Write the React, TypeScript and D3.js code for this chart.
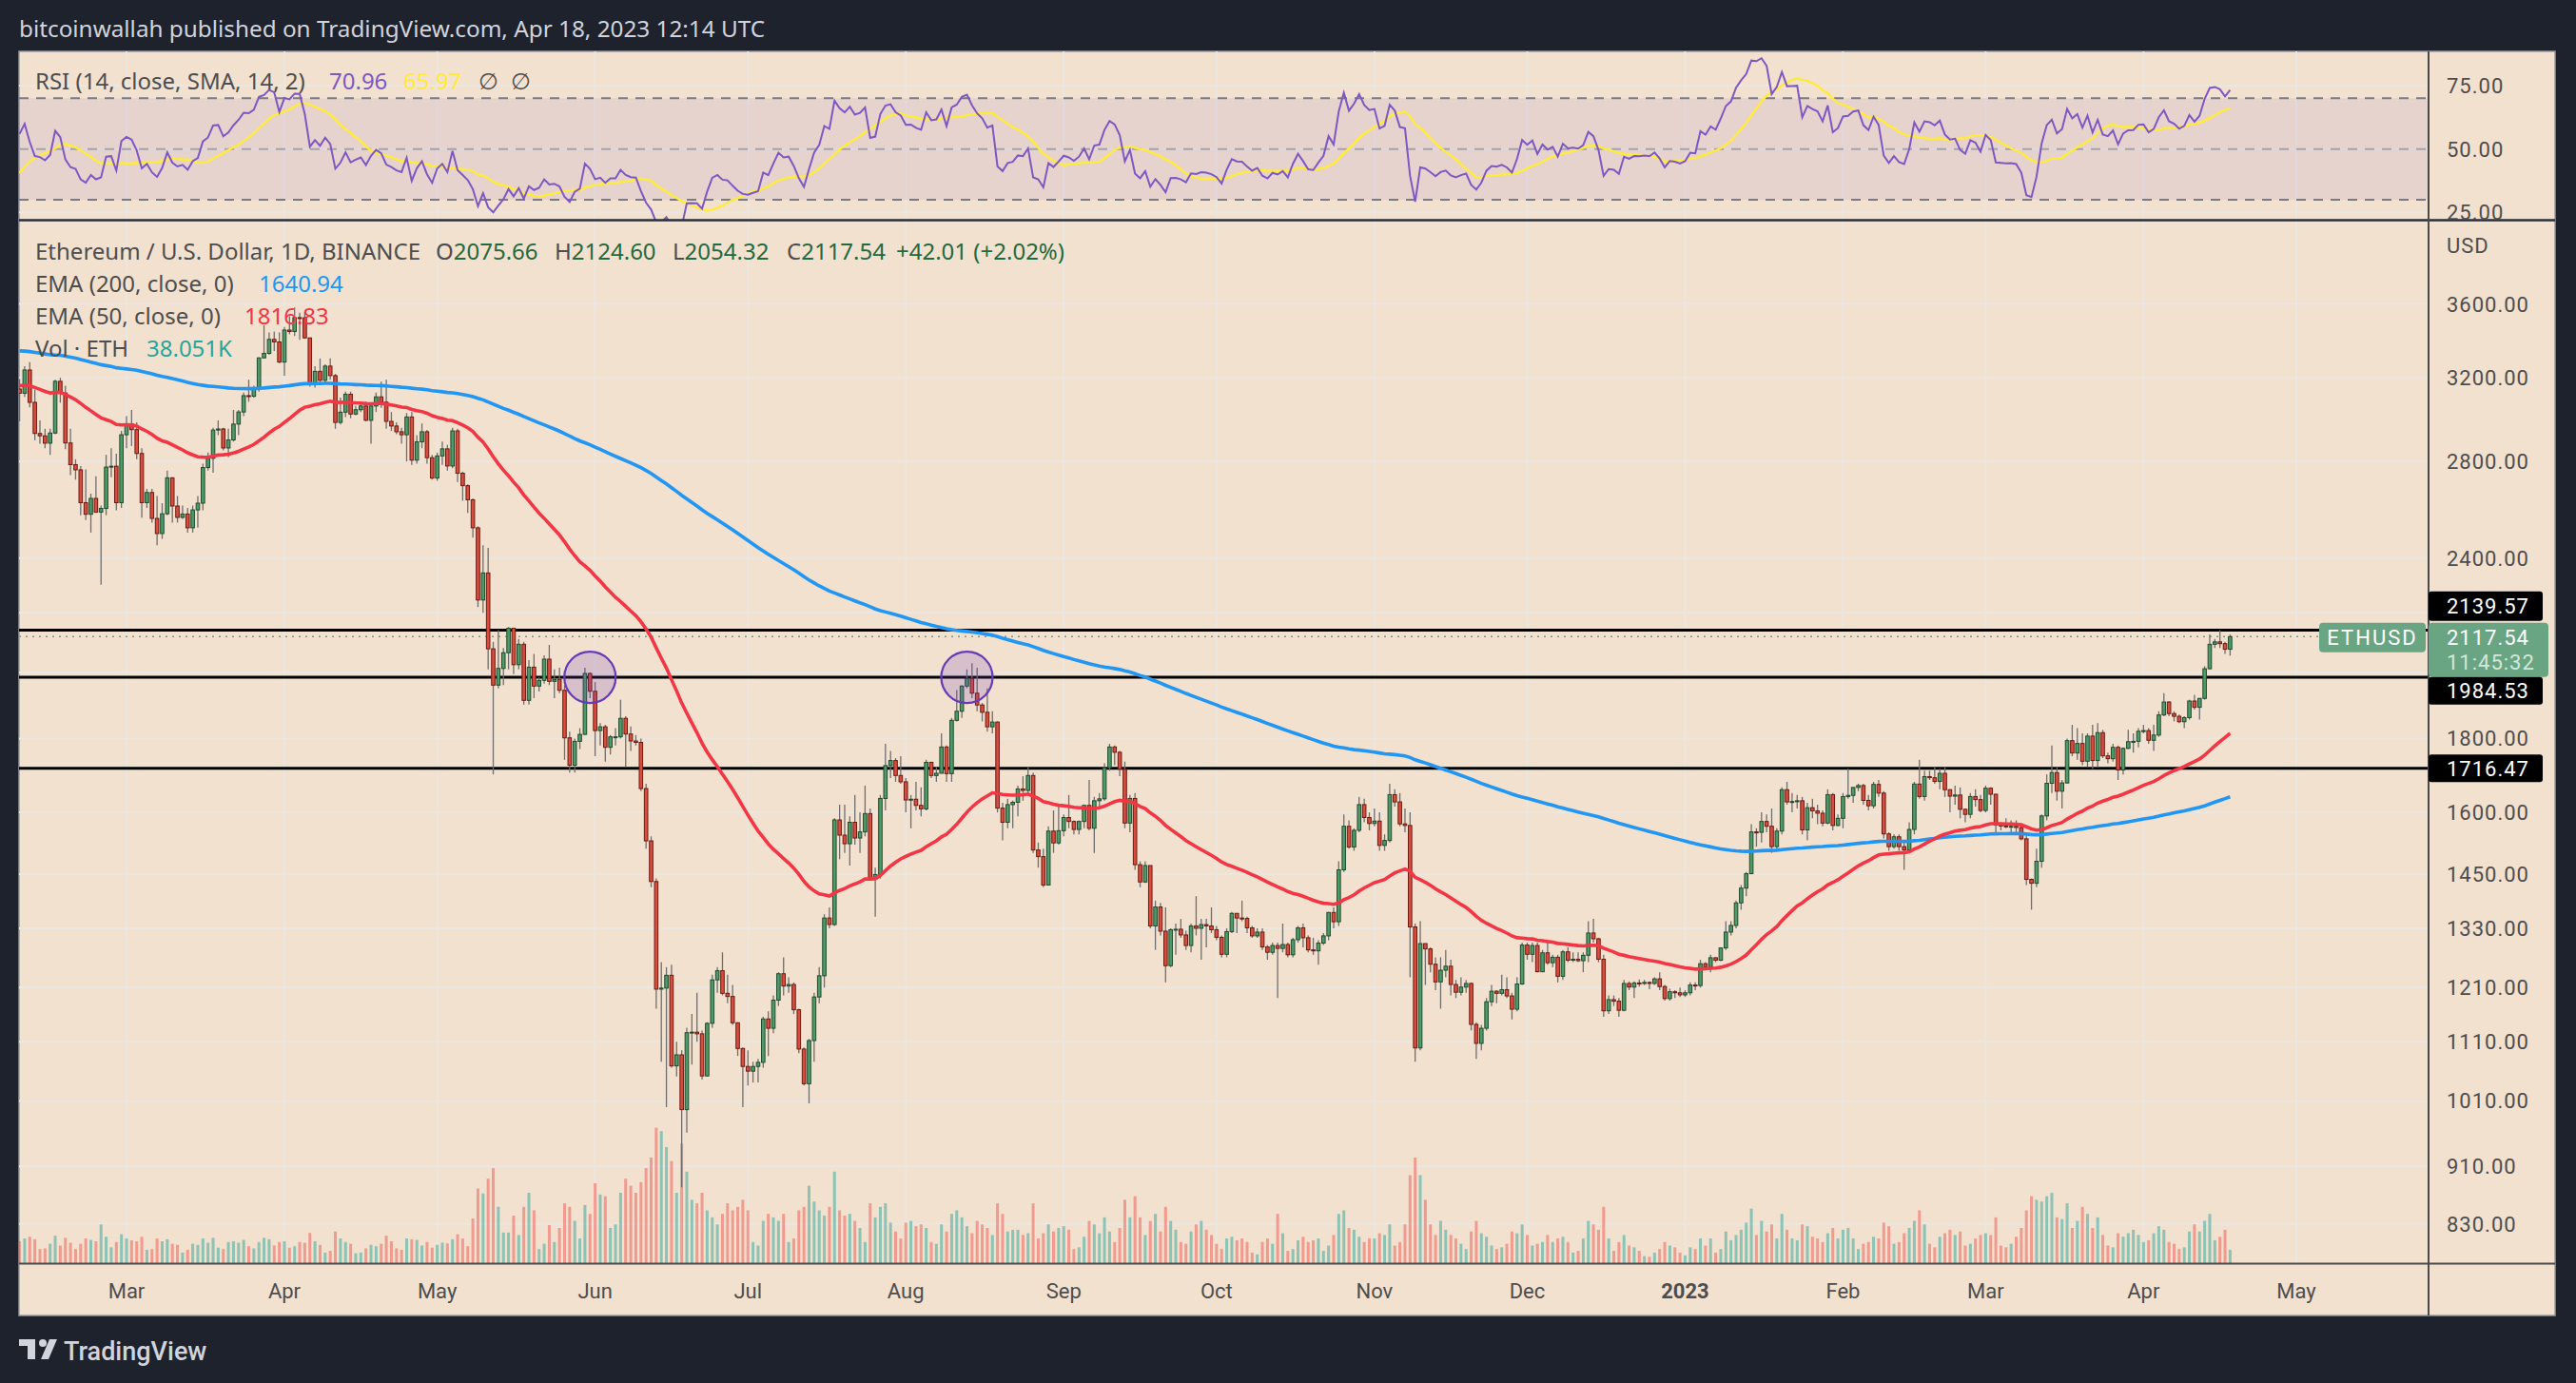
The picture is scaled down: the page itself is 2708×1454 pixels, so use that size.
import * as d3 from "d3"

// daily closes Jan 1 – Feb 7 2022, only used so the RSI has history
const warmupCloses = [
  3829, 3761, 3795, 3550, 3540, 3410, 3194, 3083, 3150, 3080, 3238, 3372, 3250, 3310, 3330, 3350, 3212, 3160, 3095, 2988,
  2558, 2405, 2539, 2440, 2460, 2468, 2421, 2547, 2598, 2605, 2688,
  2791, 2680, 2660, 2988, 3014, 3056, 3143,
]

// first drawn candle: Feb 8 2022, then one value per day up to Apr 18 2023
const firstDay = Date.UTC(2022, 1, 8)

const closes = [
  3122, 3240, 3077, 2928, 2917, 2883, 2930, 3182, 3123, 2884, 2786, 2763, 2622, 2574, 2640, 2583, 2598, 2775, 2779, 2622, 2922, // feb
  2973, 2946, 2836, 2622, 2665, 2557, 2496, 2576, 2728, 2608, 2561, 2575, 2519, 2592, 2620, 2773, 2814, 2944, 2949, 2861, 2898, 2972, 3030, 3110, 3107, 3145, 3303, 3327, 3402, 3388, 3281, // mar
  3453, 3445, 3522, 3521, 3410, 3173, 3233, 3187, 3260, 3211, 2980, 3029, 3117, 3020, 3041, 3059, 2990, 3059, 3104, 3078, 2985, 2963, 2936, 2922, 3006, 2806, 2889, 2936, 2817, 2727, // apr
  2825, 2857, 2780, 2940, 2748, 2694, 2634, 2519, 2245, 2344, 2077, 1960, 2013, 2064, 2146, 2025, 2092, 1913, 2017, 1957, 1975, 2043, 1972, 1978, 1944, 1802, 1725, 1792, 1812, 1997, 1941, // may
  1823, 1834, 1775, 1805, 1805, 1859, 1813, 1793, 1789, 1662, 1529, 1433, 1207, 1209, 1234, 1068, 1087, 996, 1126, 1127, 1124, 1051, 1143, 1225, 1243, 1199, 1193, 1144, 1098, 1067, // jun
  1059, 1067, 1074, 1151, 1134, 1186, 1237, 1213, 1216, 1168, 1097, 1038, 1112, 1192, 1233, 1352, 1338, 1581, 1543, 1522, 1575, 1536, 1551, 1597, 1440, 1449, 1636, 1724, 1738, 1697, 1680, // jul
  1632, 1634, 1618, 1609, 1733, 1697, 1703, 1776, 1702, 1853, 1880, 1957, 1981, 1935, 1899, 1877, 1834, 1848, 1611, 1575, 1620, 1626, 1661, 1657, 1697, 1507, 1491, 1425, 1553, 1524, 1554, // aug
  1587, 1577, 1557, 1577, 1618, 1560, 1630, 1635, 1718, 1776, 1761, 1714, 1573, 1636, 1472, 1432, 1470, 1335, 1376, 1324, 1253, 1327, 1328, 1316, 1294, 1335, 1330, 1338, 1335, 1327, // sep
  1311, 1276, 1323, 1362, 1352, 1351, 1331, 1314, 1322, 1291, 1280, 1294, 1288, 1296, 1275, 1306, 1331, 1310, 1285, 1283, 1299, 1314, 1364, 1344, 1460, 1565, 1514, 1555, 1620, 1587, 1572, // oct
  1578, 1518, 1530, 1646, 1627, 1571, 1567, 1333, 1099, 1298, 1287, 1256, 1221, 1244, 1252, 1216, 1201, 1211, 1218, 1141, 1107, 1134, 1183, 1203, 1199, 1206, 1194, 1169, 1217, 1295, // nov
  1276, 1294, 1241, 1279, 1259, 1270, 1232, 1281, 1264, 1266, 1263, 1274, 1320, 1308, 1266, 1166, 1187, 1184, 1167, 1218, 1211, 1219, 1218, 1220, 1218, 1227, 1212, 1189, 1202, 1200, 1196, // dec
  1200, 1215, 1214, 1257, 1251, 1269, 1264, 1289, 1322, 1336, 1385, 1418, 1451, 1551, 1550, 1577, 1565, 1515, 1553, 1659, 1627, 1628, 1630, 1556, 1612, 1604, 1598, 1573, 1646, 1567, 1585, // jan 23
  1641, 1644, 1665, 1670, 1631, 1617, 1673, 1650, 1546, 1515, 1539, 1515, 1507, 1557, 1674, 1641, 1694, 1691, 1681, 1703, 1659, 1642, 1645, 1608, 1595, 1641, 1633, 1605, // feb
  1663, 1647, 1568, 1566, 1564, 1565, 1562, 1534, 1438, 1429, 1480, 1591, 1676, 1705, 1655, 1677, 1794, 1759, 1786, 1736, 1807, 1738, 1817, 1751, 1743, 1775, 1712, 1772, 1791, 1792, 1821, // mar
  1823, 1795, 1810, 1869, 1908, 1873, 1865, 1849, 1861, 1911, 1892, 1919, 2012, 2092, 2100, 2094, 2075.53, 2117.54, // apr
]

const highs = [
  3193, 3260, 3280, 3140, 2990, 2950, 2950, 3190, 3200, 3160, 2950, 2810, 2780, 2765, 2660, 2735, 2610, 2830, 2860, 2835, 2940,
  3010, 3040, 2980, 2860, 2680, 2680, 2650, 2620, 2760, 2730, 2650, 2610, 2600, 2610, 2650, 2790, 2840, 2955, 2990, 2955, 2950, 3040, 3040, 3125, 3190, 3160, 3305, 3480, 3440, 3445, 3440,
  3470, 3530, 3580, 3550, 3555, 3410, 3260, 3300, 3270, 3300, 3220, 3100, 3130, 3130, 3060, 3075, 3080, 3075, 3125, 3180, 3190, 3030, 2980, 2955, 3025, 3030, 2920, 2975, 2945, 2830,
  2840, 2890, 2875, 2955, 2950, 2755, 2700, 2640, 2525, 2450, 2440, 2100, 2140, 2080, 2150, 2140, 2110, 2100, 2040, 2060, 1985, 2055, 2090, 2010, 2015, 1960, 1820, 1800, 1830, 2015, 2000,
  1970, 1845, 1840, 1810, 1830, 1915, 1865, 1835, 1810, 1800, 1675, 1540, 1440, 1260, 1250, 1255, 1110, 1095, 1135, 1160, 1200, 1130, 1145, 1235, 1250, 1280, 1235, 1215, 1145, 1100,
  1095, 1075, 1080, 1155, 1165, 1195, 1240, 1270, 1230, 1220, 1170, 1100, 1115, 1200, 1250, 1360, 1375, 1585, 1620, 1620, 1590, 1645, 1600, 1670, 1610, 1465, 1645, 1785, 1765, 1745, 1750,
  1690, 1645, 1680, 1665, 1740, 1735, 1720, 1815, 1780, 1860, 1945, 1960, 2010, 2030, 2015, 1905, 1950, 1880, 1850, 1625, 1635, 1630, 1670, 1695, 1720, 1705, 1525, 1510, 1565, 1605, 1620,
  1595, 1645, 1580, 1580, 1620, 1685, 1640, 1650, 1730, 1785, 1780, 1765, 1735, 1645, 1650, 1480, 1480, 1470, 1390, 1385, 1375, 1330, 1340, 1350, 1325, 1340, 1400, 1350, 1350, 1375,
  1335, 1315, 1330, 1365, 1360, 1390, 1355, 1335, 1330, 1330, 1295, 1300, 1300, 1340, 1300, 1310, 1335, 1340, 1315, 1310, 1305, 1320, 1365, 1375, 1480, 1595, 1580, 1560, 1640, 1635, 1600,
  1610, 1600, 1545, 1675, 1660, 1650, 1610, 1600, 1340, 1345, 1295, 1290, 1270, 1270, 1285, 1265, 1225, 1230, 1225, 1220, 1145, 1140, 1190, 1215, 1205, 1235, 1230, 1200, 1230, 1300,
  1300, 1300, 1300, 1285, 1305, 1275, 1275, 1285, 1290, 1280, 1280, 1280, 1345, 1350, 1310, 1275, 1195, 1195, 1190, 1225, 1222, 1222, 1226, 1225, 1222, 1230, 1240, 1215, 1208, 1205, 1210,
  1205, 1220, 1220, 1265, 1260, 1275, 1270, 1290, 1345, 1345, 1390, 1425, 1455, 1570, 1560, 1600, 1595, 1610, 1560, 1665, 1680, 1650, 1645, 1640, 1625, 1635, 1620, 1605, 1660, 1650, 1595,
  1650, 1715, 1665, 1675, 1675, 1645, 1680, 1685, 1655, 1550, 1545, 1545, 1525, 1575, 1680, 1740, 1710, 1710, 1720, 1715, 1720, 1660, 1670, 1665, 1610, 1650, 1660, 1645,
  1670, 1665, 1648, 1575, 1585, 1580, 1580, 1565, 1545, 1440, 1510, 1595, 1700, 1780, 1720, 1685, 1800, 1840, 1830, 1815, 1815, 1840, 1845, 1825, 1760, 1785, 1780, 1775, 1825, 1815, 1830,
  1840, 1830, 1840, 1880, 1935, 1910, 1880, 1870, 1865, 1915, 1930, 1920, 2020, 2125, 2110, 2140, 2100, 2124.6,
]

const lows = [
  2985, 3104, 3052, 2896, 2880, 2860, 2830, 2925, 3075, 2855, 2740, 2720, 2570, 2550, 2500, 2580, 2300, 2570, 2730, 2590, 2600,
  2860, 2870, 2810, 2560, 2600, 2540, 2450, 2475, 2570, 2540, 2540, 2555, 2500, 2500, 2520, 2590, 2760, 2750, 2920, 2850, 2820, 2890, 2920, 3010, 3080, 3100, 3130, 3300, 3320, 3340, 3275,
  3210, 3430, 3420, 3400, 3405, 3155, 3150, 3170, 3175, 3190, 2950, 2970, 3005, 3000, 3015, 3030, 2985, 2880, 3030, 3050, 2950, 2940, 2925, 2880, 2800, 2785, 2790, 2860, 2790, 2720,
  2715, 2785, 2760, 2770, 2710, 2630, 2580, 2480, 2220, 2200, 2010, 1700, 1950, 1960, 2010, 1995, 2010, 1900, 1900, 1920, 1940, 1965, 1960, 1920, 1935, 1740, 1705, 1705, 1770, 1810, 1920,
  1750, 1780, 1735, 1755, 1780, 1800, 1720, 1765, 1780, 1655, 1510, 1420, 1170, 1075, 1000, 1065, 1050, 880, 960, 1070, 1110, 1045, 1050, 1135, 1200, 1195, 1180, 1140, 1085, 1000,
  1035, 1040, 1040, 1065, 1085, 1125, 1175, 1195, 1200, 1160, 1090, 1035, 1006, 1075, 1180, 1210, 1330, 1335, 1485, 1500, 1470, 1520, 1500, 1540, 1435, 1355, 1440, 1605, 1690, 1680, 1675,
  1600, 1560, 1605, 1590, 1605, 1690, 1680, 1705, 1680, 1680, 1850, 1860, 1950, 1920, 1880, 1850, 1820, 1815, 1600, 1530, 1560, 1560, 1590, 1630, 1650, 1500, 1465, 1420, 1425, 1500, 1520,
  1540, 1560, 1545, 1545, 1560, 1555, 1500, 1615, 1630, 1710, 1725, 1695, 1560, 1550, 1460, 1420, 1430, 1330, 1285, 1315, 1220, 1250, 1275, 1310, 1285, 1280, 1315, 1265, 1290, 1320,
  1305, 1270, 1270, 1320, 1320, 1345, 1320, 1310, 1310, 1285, 1265, 1275, 1190, 1280, 1270, 1270, 1300, 1290, 1280, 1275, 1255, 1295, 1305, 1330, 1335, 1455, 1510, 1505, 1550, 1575, 1555,
  1565, 1505, 1505, 1525, 1615, 1565, 1550, 1230, 1075, 1095, 1215, 1240, 1205, 1170, 1230, 1195, 1190, 1195, 1200, 1130, 1080, 1095, 1130, 1175, 1180, 1195, 1190, 1150, 1165, 1215,
  1265, 1260, 1240, 1240, 1255, 1250, 1220, 1225, 1260, 1260, 1260, 1240, 1260, 1300, 1260, 1155, 1160, 1175, 1155, 1165, 1205, 1190, 1212, 1215, 1207, 1215, 1205, 1185, 1185, 1190, 1192,
  1192, 1195, 1205, 1210, 1245, 1240, 1260, 1262, 1285, 1315, 1330, 1370, 1400, 1450, 1515, 1525, 1550, 1500, 1505, 1545, 1620, 1600, 1610, 1545, 1530, 1585, 1570, 1565, 1570, 1555, 1565,
  1560, 1635, 1625, 1655, 1620, 1605, 1610, 1640, 1535, 1505, 1510, 1505, 1460, 1500, 1545, 1635, 1630, 1685, 1675, 1660, 1640, 1600, 1620, 1585, 1575, 1585, 1615, 1600,
  1600, 1620, 1550, 1555, 1560, 1550, 1545, 1530, 1425, 1370, 1420, 1465, 1580, 1650, 1630, 1610, 1675, 1750, 1740, 1725, 1720, 1715, 1720, 1745, 1730, 1735, 1685, 1700, 1770, 1760, 1775,
  1815, 1785, 1765, 1805, 1865, 1865, 1850, 1845, 1830, 1855, 1885, 1855, 1915, 2010, 2080, 2080, 2060, 2054.32,
]

// volume in thousands of ETH
const volumes = [
  62, 70, 75, 68, 40, 42, 55, 78, 50, 72, 58, 40, 55, 70, 66, 62, 110, 75, 45, 60, 82,
  70, 65, 62, 75, 38, 40, 70, 62, 68, 55, 52, 30, 38, 55, 52, 70, 58, 72, 44, 40, 60, 62, 58, 66, 48, 42, 60, 72, 68, 50, 60,
  62, 44, 48, 60, 58, 86, 62, 52, 30, 35, 90, 70, 60, 55, 28, 30, 42, 52, 48, 55, 78, 62, 42, 38, 70, 68, 66, 50, 60, 44,
  52, 58, 56, 68, 82, 70, 48, 127, 212, 198, 240, 270, 160, 87, 87, 135, 80, 160, 200, 150, 40, 55, 108, 60, 100, 170, 160, 120, 70, 165, 140,
  227, 195, 190, 100, 110, 200, 240, 220, 200, 230, 270, 300, 385, 375, 330, 290, 200, 340, 260, 180, 170, 200, 150, 130, 110, 140, 170, 150, 160, 180,
  150, 60, 50, 120, 140, 130, 120, 140, 60, 70, 150, 160, 220, 175, 150, 135, 160, 260, 150, 135, 140, 120, 100, 60, 170, 130, 160, 170, 115, 90, 70,
  115, 120, 105, 110, 100, 60, 55, 110, 90, 140, 150, 130, 105, 85, 120, 110, 100, 80, 170, 140, 90, 95, 95, 80, 85, 170, 70, 85, 110, 90, 100,
  105, 95, 40, 45, 75, 120, 110, 85, 130, 90, 60, 100, 180, 130, 190, 130, 80, 120, 140, 90, 160, 120, 95, 60, 55, 90, 110, 120, 95, 80,
  55, 40, 70, 75, 65, 70, 60, 30, 25, 60, 70, 55, 140, 85, 35, 40, 65, 75, 60, 65, 70, 35, 50, 80, 140, 150, 100, 95, 75, 60, 70,
  70, 85, 80, 110, 50, 60, 110, 250, 300, 250, 180, 110, 80, 120, 95, 80, 70, 55, 40, 90, 120, 85, 75, 50, 40, 45, 55, 90, 85, 110,
  80, 50, 55, 60, 80, 60, 70, 75, 60, 30, 35, 70, 120, 110, 95, 160, 70, 35, 60, 80, 50, 45, 35, 20, 18, 30, 40, 60, 50, 45, 30,
  22, 45, 40, 70, 50, 70, 30, 40, 90, 65, 80, 95, 115, 155, 80, 120, 90, 110, 70, 140, 95, 70, 65, 110, 105, 75, 70, 60, 85, 100, 70,
  95, 100, 70, 40, 55, 60, 75, 70, 115, 105, 55, 60, 85, 100, 120, 150, 110, 55, 45, 75, 85, 95, 80, 90, 50, 55, 70, 80,
  85, 80, 130, 50, 45, 55, 75, 100, 150, 190, 180, 175, 190, 200, 130, 125, 170, 100, 120, 160, 140, 100, 130, 80, 50, 45, 85, 75, 85, 95, 80,
  60, 65, 85, 105, 95, 60, 55, 40, 45, 90, 110, 90, 120, 140, 65, 75, 95, 38.051,
]

const priceTicks = [3600, 3200, 2800, 2400, 2200, 2000, 1800, 1600, 1450, 1330, 1210, 1110, 1010, 910, 830]
const hiddenPriceLabels = [2200, 2000]
const rsiTicks = [75, 50, 25]
const levels = [2139.57, 1984.53, 1716.47]
const lastPrice = 2117.54
const circleDays = ["2022-05-31", "2022-08-13"]
const ema200Start = 3340
const ema50Start = 3160

const legend = { o: "2075.66", h: "2124.60", l: "2054.32", c: "2117.54", chg: "+42.01 (+2.02%)" }

const DAY = 86400000
const FONT = "Roboto, 'Noto Sans', 'DejaVu Sans', sans-serif"
const LEGEND_FONT = "'Noto Sans', Roboto, 'DejaVu Sans', sans-serif"

// layout
const L = 20, R = 2686, TOP = 54, BOTTOM = 1383
const AXIS_X = 2553
const RSI_BOTTOM = 231
const MAIN_BOTTOM = 1328

function emaSeries(vals: number[], n: number, start: number) {
  const a = 2 / (n + 1)
  const out: number[] = []
  vals.forEach((v, i) => out.push(i === 0 ? start : a * v + (1 - a) * out[i - 1]))
  return out
}

function rsiSeries(vals: number[], n: number) {
  const out: (number | null)[] = vals.map(() => null)
  let ag = 0, al = 0
  for (let i = 1; i < vals.length; i++) {
    const ch = vals[i] - vals[i - 1]
    const g = Math.max(ch, 0), l = Math.max(-ch, 0)
    if (i <= n) {
      ag += g / n
      al += l / n
      if (i < n) continue
    } else {
      ag = (ag * (n - 1) + g) / n
      al = (al * (n - 1) + l) / n
    }
    out[i] = al === 0 ? 100 : 100 - 100 / (1 + ag / al)
  }
  return out
}

function smaSeries(vals: (number | null)[], n: number) {
  return vals.map((_, i) => {
    const win = vals.slice(Math.max(0, i - n + 1), i + 1)
    if (win.length < n || win.some((v) => v == null)) return null
    return d3.mean(win as number[]) as number
  })
}

export default function App() {
  const x = d3
    .scaleUtc()
    .domain([new Date(Date.UTC(2022, 2, 1)), new Date(Date.UTC(2023, 4, 1))])
    .range([133, 2414])
  const y = d3.scaleLog().domain([830, 3600]).range([1286.8, 319.5])
  const yRsi = d3.scaleLinear().domain([30, 70]).range([210, 103.3])
  const yVol = d3.scaleLinear().domain([0, 500]).range([MAIN_BOTTOM, MAIN_BOTTOM - 185])

  const candles = closes.map((c, i) => {
    const o = i === 0 ? warmupCloses[warmupCloses.length - 1] : closes[i - 1]
    return {
      date: new Date(firstDay + i * DAY),
      o,
      c,
      h: Math.max(highs[i], o, c),
      l: Math.min(lows[i], o, c),
      v: volumes[i],
    }
  })

  const all = warmupCloses.concat(closes)
  const rsiAll = rsiSeries(all, 14)
  const rsiSmaAll = smaSeries(rsiAll, 14)
  const off = warmupCloses.length
  const rsi = candles.map((d, i) => ({ date: d.date, v: rsiAll[i + off] }))
  const rsiSma = candles.map((d, i) => ({ date: d.date, v: rsiSmaAll[i + off] }))

  const ema200 = emaSeries(closes, 200, ema200Start)
  const ema50 = emaSeries(closes, 50, ema50Start)

  const priceLine = d3
    .line<{ date: Date; v: number }>()
    .x((d) => x(d.date))
    .y((d) => y(d.v))
  const rsiLine = d3
    .line<{ date: Date; v: number | null }>()
    .defined((d) => d.v != null)
    .x((d) => x(d.date))
    .y((d) => yRsi(d.v as number))

  const months = d3.utcMonth.range(new Date(Date.UTC(2022, 2, 1)), new Date(Date.UTC(2023, 4, 2)))
  const grid = "#ece6e0"
  const text = "#4d4d4d"

  const yLast = y(lastPrice)
  const greenTop = yLast - 14.5
  const greenBottom = greenTop + 57

  return (
    <svg
      width={2708}
      height={1454}
      style={{ position: "absolute", left: 0, top: 0, fontFamily: FONT }}
    >
      <defs>
        <clipPath id="rsiClip">
          <rect x={L} y={TOP} width={AXIS_X - L} height={RSI_BOTTOM - TOP} />
        </clipPath>
        <clipPath id="mainClip">
          <rect x={L} y={RSI_BOTTOM} width={AXIS_X - L} height={MAIN_BOTTOM - RSI_BOTTOM} />
        </clipPath>
      </defs>

      <rect width={2708} height={1454} fill="#1e222d" />
      <text x={20} y={39} fontSize={24.3} fill="#d1d4dc" fontFamily={LEGEND_FONT}>
        bitcoinwallah published on TradingView.com, Apr 18, 2023 12:14 UTC
      </text>

      <rect x={L} y={TOP} width={R - L} height={BOTTOM - TOP} fill="#f3e1cf" stroke="#9a9a9a" strokeWidth={1.5} />

      {/* grid */}
      {months.map((m) => (
        <line key={+m} x1={x(m)} x2={x(m)} y1={TOP} y2={MAIN_BOTTOM} stroke={grid} strokeWidth={2} />
      ))}
      {priceTicks.map((p) => (
        <line key={p} x1={L} x2={AXIS_X} y1={y(p)} y2={y(p)} stroke={grid} strokeWidth={2} />
      ))}
      {rsiTicks.map((t) => (
        <line key={t} x1={L} x2={AXIS_X} y1={yRsi(t)} y2={yRsi(t)} stroke={grid} strokeWidth={2} />
      ))}

      {/* RSI pane */}
      <g clipPath="url(#rsiClip)">
        <rect x={L} y={yRsi(70)} width={AXIS_X - L} height={yRsi(30) - yRsi(70)} fill="rgba(126,87,194,0.1)" />
        <line x1={L} x2={AXIS_X} y1={yRsi(70)} y2={yRsi(70)} stroke="#787b86" strokeWidth={2} strokeDasharray="10 8" />
        <line x1={L} x2={AXIS_X} y1={yRsi(50)} y2={yRsi(50)} stroke="#a3a3ab" strokeWidth={2} strokeDasharray="10 8" />
        <line x1={L} x2={AXIS_X} y1={yRsi(30)} y2={yRsi(30)} stroke="#787b86" strokeWidth={2} strokeDasharray="10 8" />
        <path d={rsiLine(rsiSma) || ""} fill="none" stroke="#ffeb3b" strokeWidth={2.4} />
        <path d={rsiLine(rsi) || ""} fill="none" stroke="#7e57c2" strokeWidth={2} />
      </g>

      {/* main pane */}
      <g clipPath="url(#mainClip)">
        {candles.map((d, i) => (
          <rect
            key={"v" + i}
            x={x(d.date) - 1.5}
            width={3}
            y={yVol(d.v)}
            height={MAIN_BOTTOM - yVol(d.v)}
            fill={d.c >= d.o ? "rgba(38,166,154,0.5)" : "rgba(239,83,80,0.5)"}
          />
        ))}

        {levels.map((p) => (
          <line key={p} x1={L} x2={AXIS_X} y1={y(p)} y2={y(p)} stroke="#000" strokeWidth={3} />
        ))}
        <line x1={L} x2={AXIS_X} y1={yLast} y2={yLast} stroke="#6aa583" strokeWidth={1.5} strokeDasharray="2 5" />

        {candles.map((d, i) => {
          const cx = x(d.date)
          const up = d.c >= d.o
          const top = y(Math.max(d.o, d.c))
          const h = Math.max(1, Math.abs(y(d.o) - y(d.c)))
          return (
            <g key={"c" + i}>
              <line x1={cx} x2={cx} y1={y(d.h)} y2={y(d.l)} stroke="#6e6e6e" strokeWidth={1.3} />
              <rect
                x={cx - 1.8}
                width={3.6}
                y={top}
                height={h}
                fill={up ? "#4f9a69" : "#d94d3f"}
                stroke={up ? "#1f4a2d" : "#6b1a12"}
                strokeWidth={1}
              />
            </g>
          )
        })}

        <path
          d={priceLine(candles.map((d, i) => ({ date: d.date, v: ema200[i] }))) || ""}
          fill="none"
          stroke="#2196f3"
          strokeWidth={3.6}
        />
        <path
          d={priceLine(candles.map((d, i) => ({ date: d.date, v: ema50[i] }))) || ""}
          fill="none"
          stroke="#f23645"
          strokeWidth={3.6}
        />

        {circleDays.map((s) => (
          <circle
            key={s}
            cx={x(new Date(s + "T00:00:00Z"))}
            cy={y(1984.53)}
            r={27}
            fill="rgba(103,58,183,0.2)"
            stroke="#673ab7"
            strokeWidth={2.2}
          />
        ))}
      </g>

      {/* separators */}
      <line x1={L} x2={R} y1={RSI_BOTTOM + 0.5} y2={RSI_BOTTOM + 0.5} stroke="#2a2e39" strokeWidth={2.5} />
      <line x1={L} x2={R} y1={MAIN_BOTTOM + 0.5} y2={MAIN_BOTTOM + 0.5} stroke="#4a4a4a" strokeWidth={2} />
      <line x1={AXIS_X} x2={AXIS_X} y1={TOP} y2={BOTTOM} stroke="#4a4a4a" strokeWidth={2} />

      {/* legends */}
      <g fontSize={24} fill={text} fontFamily={LEGEND_FONT}>
        <text x={37} y={94}>RSI (14, close, SMA, 14, 2)</text>
        <text x={346} y={94} fill="#7e57c2">70.96</text>
        <text x={424} y={94} fill="#ffeb3b">65.97</text>
        <text x={503} y={94}>∅</text>
        <text x={537} y={94}>∅</text>

        <text x={37} y={273}>Ethereum / U.S. Dollar, 1D, BINANCE</text>
        <text x={458} y={273}>O<tspan fill="#22693d">{legend.o}</tspan></text>
        <text x={583} y={273}>H<tspan fill="#22693d">{legend.h}</tspan></text>
        <text x={707} y={273}>L<tspan fill="#22693d">{legend.l}</tspan></text>
        <text x={827} y={273}>C<tspan fill="#22693d">{legend.c}</tspan></text>
        <text x={942} y={273} fill="#22693d">{legend.chg}</text>

        <text x={37} y={307}>EMA (200, close, 0)</text>
        <text x={272} y={307} fill="#2196f3">1640.94</text>
        <text x={37} y={341}>EMA (50, close, 0)</text>
        <text x={257} y={341} fill="#f23645">1816.83</text>
        <text x={37} y={375}>Vol · ETH</text>
        <text x={154} y={375} fill="#26a69a">38.051K</text>
      </g>

      {/* right axis */}
      <g fontSize={22} fill={text} letterSpacing={1}>
        {rsiTicks.map((t) => (
          <text key={t} x={2572} y={yRsi(t) + 8}>{d3.format(".2f")(t)}</text>
        ))}
        <text x={2572} y={266}>USD</text>
        {priceTicks
          .filter((p) => !hiddenPriceLabels.includes(p))
          .map((p) => (
            <text key={p} x={2572} y={y(p) + 8}>{d3.format(".2f")(p)}</text>
          ))}
      </g>

      {/* price labels */}
      <g fontSize={22} letterSpacing={1}>
        <rect x={AXIS_X} y={greenTop - 33} width={120} height={31} rx={3} fill="#000" />
        <text x={2572} y={greenTop - 9.5} fill="#fff">{d3.format(".2f")(levels[0])}</text>

        <rect x={2438} y={greenTop} width={112} height={31} rx={4} fill="#6aa583" />
        <text x={2494} y={greenTop + 23} fill="#fff" textAnchor="middle" letterSpacing={2}>ETHUSD</text>
        <rect x={AXIS_X} y={greenTop} width={126} height={57} rx={4} fill="#6aa583" />
        <text x={2572} y={greenTop + 23} fill="#fff">{d3.format(".2f")(lastPrice)}</text>
        <text x={2572} y={greenTop + 49} fill="#d2e8d9">11:45:32</text>

        <rect x={AXIS_X} y={greenBottom} width={120} height={29} rx={3} fill="#000" />
        <text x={2572} y={greenBottom + 22} fill="#fff">{d3.format(".2f")(levels[1])}</text>

        <rect x={AXIS_X} y={y(levels[2]) - 14.5} width={120} height={29} rx={3} fill="#000" />
        <text x={2572} y={y(levels[2]) + 8} fill="#fff">{d3.format(".2f")(levels[2])}</text>
      </g>

      {/* time axis */}
      <g fontSize={22} fill={text} textAnchor="middle">
        {months.map((m) => (
          <text key={+m} x={x(m)} y={1365} fontWeight={m.getUTCMonth() === 0 ? 700 : 400}>
            {m.getUTCMonth() === 0 ? d3.utcFormat("%Y")(m) : d3.utcFormat("%b")(m)}
          </text>
        ))}
      </g>

      {/* TradingView mark */}
      <g fill="#d1d4dc">
        <rect x={20} y={1408} width={17} height={7} />
        <rect x={29} y={1408} width={8} height={21} />
        <circle cx={45} cy={1412} r={4} />
        <polygon points="52,1408 60,1408 51,1429 43,1429" />
        <text x={67} y={1430} fontSize={27} fontWeight={500}>TradingView</text>
      </g>
    </svg>
  )
}
